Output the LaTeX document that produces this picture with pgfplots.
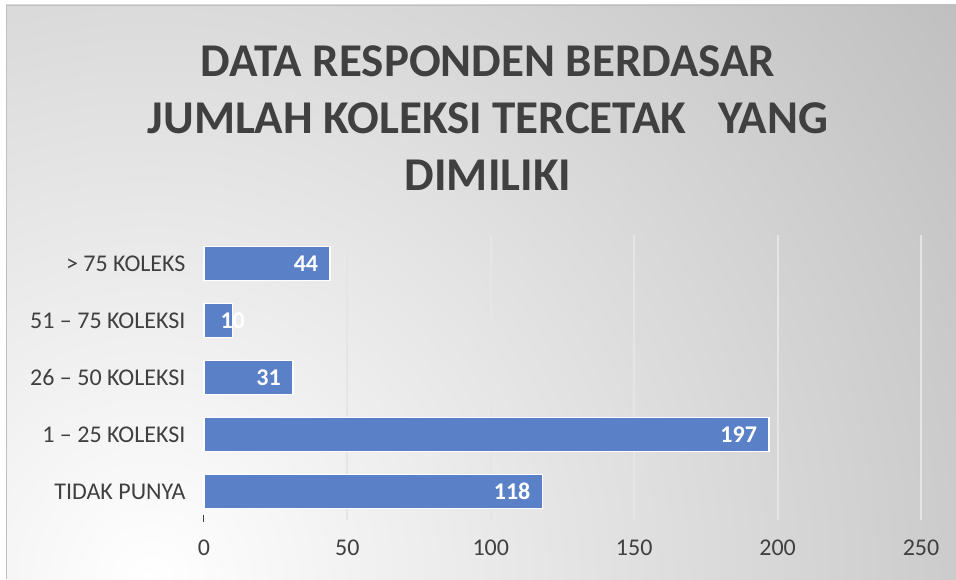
\documentclass[border=0pt]{standalone}
\usepackage{pgfplots}
\pgfplotsset{compat=1.18}
\usepackage{fontspec}
\setmainfont{Carlito}
\definecolor{bg}{RGB}{191,191,191}
\definecolor{barblue}{RGB}{90,129,200}
\definecolor{txt}{RGB}{64,64,64}
\begin{document}
\begin{tikzpicture}[x=1pt,y=1pt]
\path[use as bounding box] (0,0) rectangle (956,579);
\fill[white] (0,0) rectangle (956,579);
\begin{scope}
\clip (6,0) rectangle (956,574);
\fill[bg] (6,0) rectangle (956,574);
\shade[inner color=white, outer color=bg] (150,0) circle (1000);
\end{scope}
\draw[black!25, line width=1.2pt] (6.6,0) -- (6.6,573.4) -- (956,573.4);
\node[font=\fontsize{47}{57}\selectfont\bfseries, text=txt, align=center] at (488,461) {DATA RESPONDEN BERDASAR\\JUMLAH KOLEKSI TERCETAK\ \ \ YANG\\DIMILIKI};
\begin{axis}[at={(204pt,59pt)}, anchor=south west, scale only axis,
  width=717pt, height=285pt,
  xmin=0, xmax=250, ymin=-0.5, ymax=4.5,
  xbar, bar width=34pt, bar shift=0pt,
  axis line style={draw=none}, major tick length=0pt,
  xtick={0,50,100,150,200,250},
  ytick={0,1,2,3,4},
  yticklabels={TIDAK PUNYA,1 – 25 KOLEKSI,26 – 50 KOLEKSI,51 – 75 KOLEKSI,> 75 KOLEKS},
  extra x ticks={50,100,150,200,250}, extra x tick labels={},
  extra x tick style={grid=major},
  grid style={line width=2pt, color=white!90!black},
  tick label style={font=\fontsize{24}{28}\selectfont, text=txt},
  /pgf/number format/assume math mode=true,
  yticklabel style={xshift=-15pt},
  xticklabel style={yshift=-16pt},
  clip=false,
  nodes near coords style={font=\fontsize{24}{28}\selectfont\bfseries, text=white},
]
\addplot[fill=barblue, draw=white, line width=1.5pt,
  nodes near coords, every node near coord/.append style={anchor=east, xshift=-8pt}]
  coordinates {(118,0) (197,1) (31,2) (44,4)};
\addplot[fill=barblue, draw=white, line width=1.5pt,
  nodes near coords, every node near coord/.append style={anchor=center, xshift=0pt}]
  coordinates {(10,3)};
\draw[txt, line width=1pt] (axis cs:0,-0.41) -- (axis cs:0,-0.54);
\end{axis}
\end{tikzpicture}
\end{document}
